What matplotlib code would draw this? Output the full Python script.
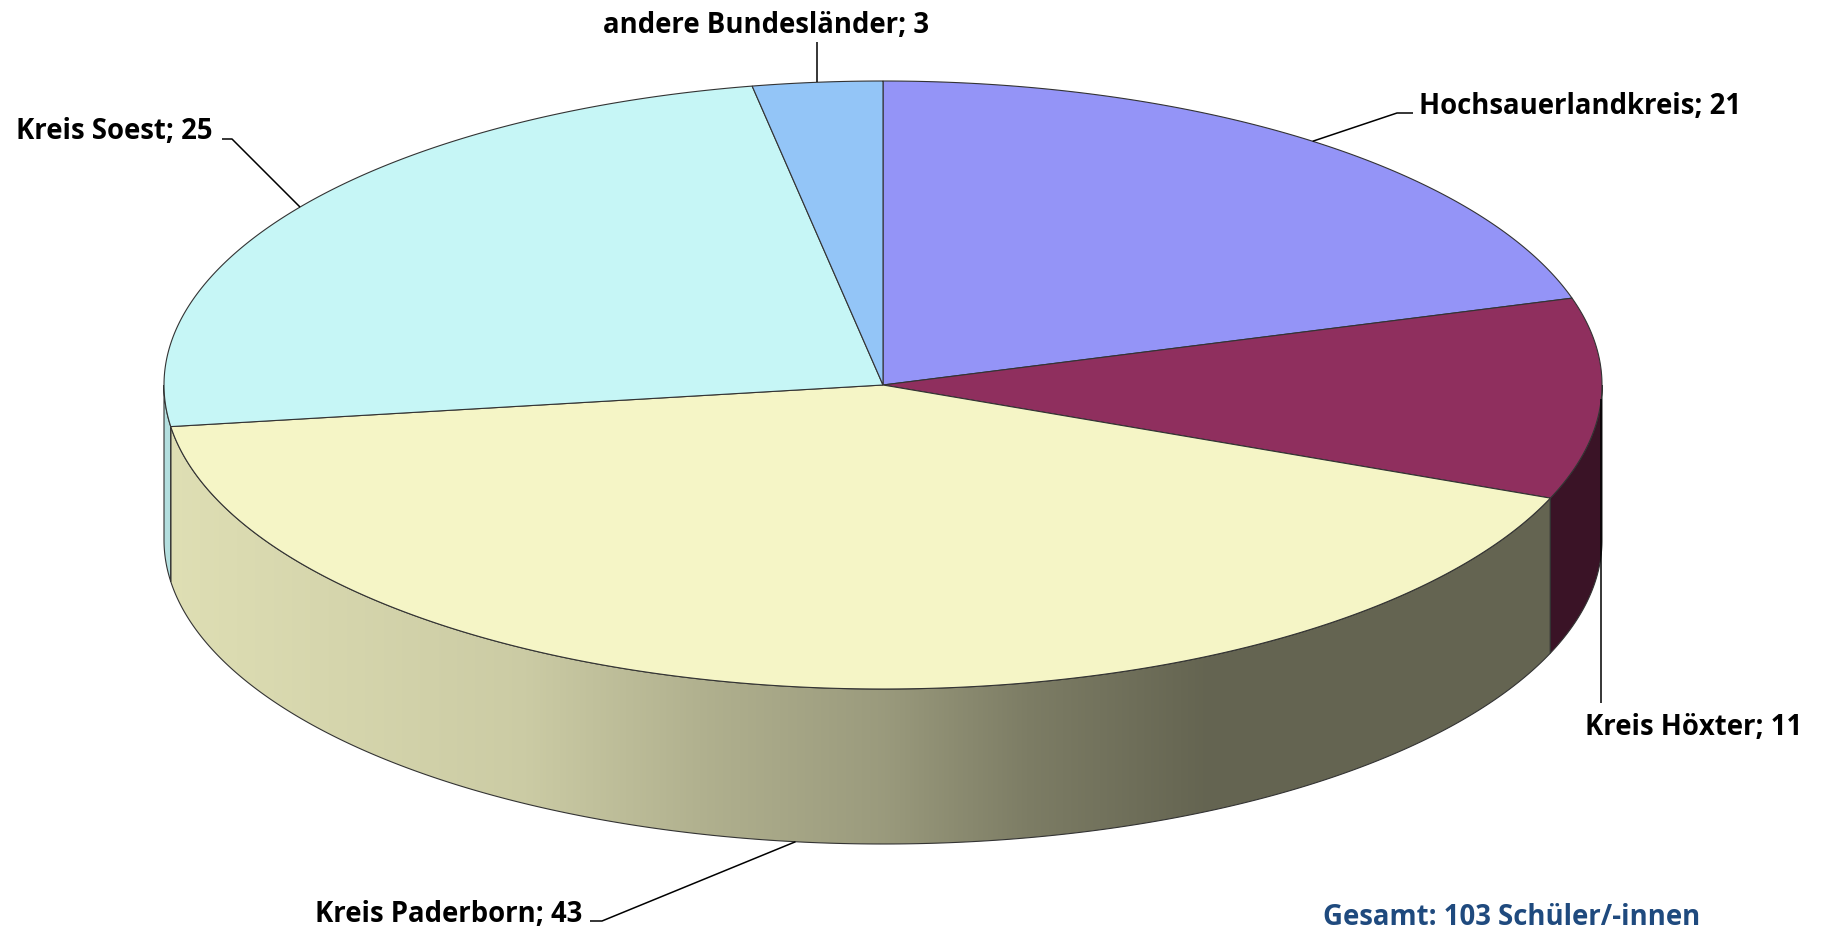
import numpy as np
import matplotlib.pyplot as plt
from matplotlib.colors import to_rgb
from matplotlib.patches import Polygon

# data
labels = ["Hochsauerlandkreis", "Kreis Höxter", "Kreis Paderborn", "Kreis Soest", "andere Bundesländer"]
values = [21, 11, 43, 25, 3]
colors = ["#9494F7", "#8F2F5E", "#F5F5C6", "#C6F6F6", "#93C5F7"]
total_text = "Gesamt: 103 Schüler/-innen"

W, H = 1826, 931
CX, CY, RX, RY, DEPTH = 883, 385, 719, 304, 155
EDGE = "#333333"
FONT = "Open Sans"
FS = 19.8


def ellipse_pt(theta_deg, dy=0.0):
    # angle measured clockwise from 12 o'clock, pixel coords (y down)
    t = np.radians(theta_deg)
    return CX + RX * np.sin(t), CY - RY * np.cos(t) + dy


def shade(x):
    u = (x - CX) / RX
    return np.interp(u, [-1, -0.5, -0.25, 0, 0.2, 0.45, 1],
                     [0.91, 0.83, 0.72, 0.63, 0.51, 0.41, 0.41])


fig = plt.figure(figsize=(W / 100, H / 100), dpi=100)
ax = fig.add_axes([0, 0, 1, 1])
ax.axis("off")

bounds = np.concatenate([[0], np.cumsum(values)]) / sum(values) * 360

# visible side walls (front half of the cylinder)
for (a, b), col in zip(zip(bounds[:-1], bounds[1:]), colors):
    lo, hi = max(a, 90), min(b, 270)
    if lo >= hi:
        continue
    th = np.linspace(lo, hi, 300)
    xs, ys = ellipse_pt(th)
    pts = np.column_stack([np.r_[xs, xs[::-1]], np.r_[ys, ys[::-1] + DEPTH]])
    clip = Polygon(pts, closed=True, facecolor="none", edgecolor="none")
    ax.add_patch(clip)
    x0, x1 = xs.min(), xs.max()
    xg = np.linspace(x0, x1, max(int(x1 - x0), 2))
    img = (shade(xg)[:, None] * np.array(to_rgb(col)))[None, :, :]
    im = ax.imshow(img, extent=[x0, x1, ys.max() + DEPTH, ys.min()],
                   aspect="auto", interpolation="bilinear", zorder=1)
    im.set_clip_path(clip)
    ax.add_patch(Polygon(pts, closed=True, facecolor="none", edgecolor=EDGE,
                         linewidth=0.8, zorder=2))

# top faces
for (a, b), col in zip(zip(bounds[:-1], bounds[1:]), colors):
    th = np.linspace(a, b, 300)
    xs, ys = ellipse_pt(th)
    pts = np.column_stack([np.r_[CX, xs], np.r_[CY, ys]])
    ax.add_patch(Polygon(pts, closed=True, facecolor=col, edgecolor=EDGE,
                         linewidth=0.8, zorder=3))

# labels with leader lines
mids = (bounds[:-1] + bounds[1:]) / 2
anchors = {}
for name, m in zip(labels, mids):
    front = 90 < m < 270
    anchors[name] = ellipse_pt(m, DEPTH if front and name == "Kreis Paderborn" else 0)

leaders = {
    "Hochsauerlandkreis": [(1397, 113), (1413, 113)],
    "Kreis Höxter": [(anchors["Kreis Höxter"][0], 703)],
    "Kreis Paderborn": [(602, 921), (590, 921)],
    "Kreis Soest": [(232, 139), (222, 139)],
    "andere Bundesländer": [(anchors["andere Bundesländer"][0], 42)],
}
text_pos = {
    "Hochsauerlandkreis": (1419, 114, "left"),
    "Kreis Höxter": (1585, 735, "left"),
    "Kreis Paderborn": (582, 922, "right"),
    "Kreis Soest": (213, 139, "right"),
    "andere Bundesländer": (766, 33, "center"),
}

for name, v in zip(labels, values):
    ax_, ay_ = anchors[name]
    path = [(ax_, ay_)] + leaders[name]
    px, py = zip(*path)
    ax.plot(px, py, color="black", linewidth=1.1, zorder=4, solid_capstyle="butt")
    tx, ty, ha = text_pos[name]
    ax.text(tx, ty, f"{name}; {v}", ha=ha, va="baseline", fontsize=FS,
            fontweight="bold", family=FONT, color="black", zorder=5)

ax.text(1323, 925, total_text, ha="left", va="baseline", fontsize=FS,
        fontweight="bold", family=FONT, color="#1F4A7E", zorder=5)

ax.set_xlim(0, W)
ax.set_ylim(H, 0)
fig.savefig("out.png", dpi=100)
